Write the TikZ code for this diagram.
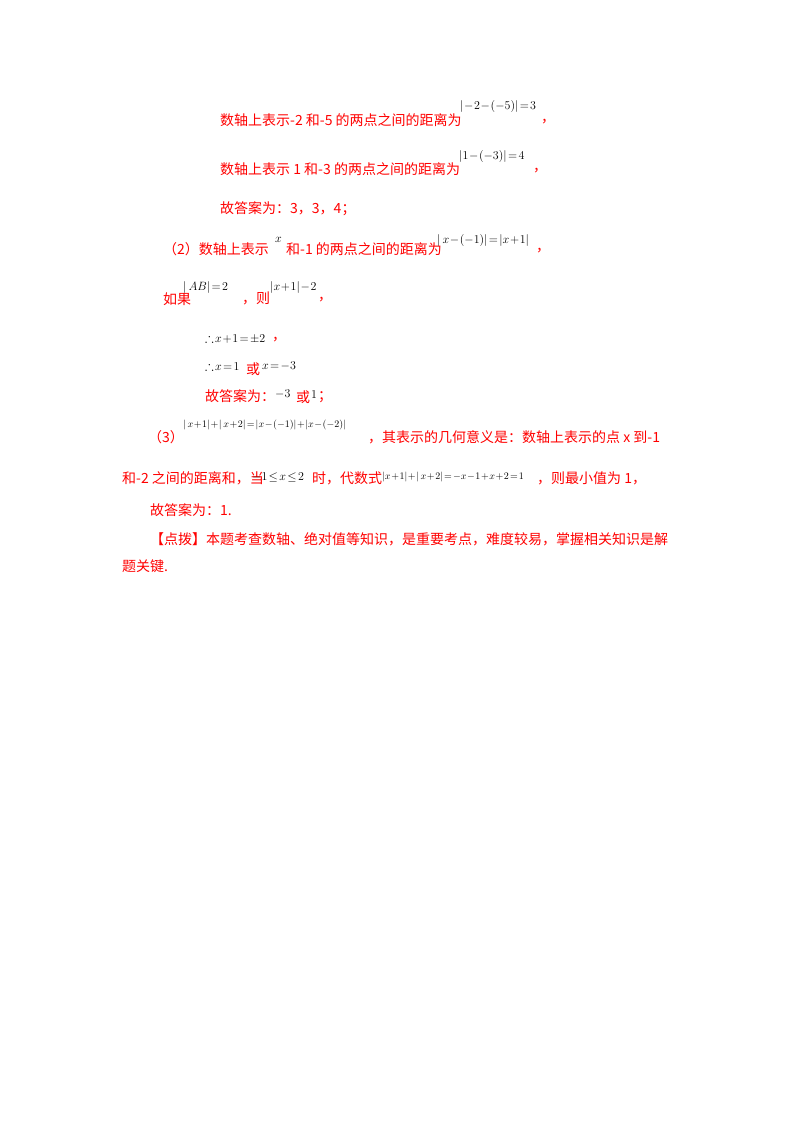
\documentclass[tikz,border=0pt]{standalone}
\usepackage{amssymb}
\usepackage{fontspec}
\setmainfont{Liberation Serif}
\newfontfamily\cjk{Noto Sans CJK SC}
\medmuskip=1mu plus 1mu
\thickmuskip=2mu plus 1mu
\begin{document}
\begin{tikzpicture}[x=1pt,y=-1pt,
  t/.style={anchor=west,inner sep=0pt,text=red,font=\cjk\fontsize{14}{14}\selectfont},
  f/.style={anchor=west,inner sep=0pt,text=black,font=\fontsize{13}{13}\selectfont},
  fs/.style={anchor=west,inner sep=0pt,text=black,font=\fontsize{10}{10}\selectfont}]
\useasboundingbox (0,0) rectangle (800,1132);
\node[t] (l1) at (220,120) {数轴上表示-2 和-5 的两点之间的距离为};
\node[f] (f1) at (460,106) {$|-2-(-5)|=3$};
\node[t] (c1) at (541,122) {，};
\node[t] (l2) at (220,169) {数轴上表示 1 和-3 的两点之间的距离为};
\node[f] (f2) at (459,156) {$|1-(-3)|=4$};
\node[t] (c2) at (533,171) {，};
\node[t] (l3) at (220,209) {故答案为：3，3，4；};
\node[t] (l4) at (163,249) {（2）数轴上表示};
\node[f] (x4) at (275,240) {$x$};
\node[t] (l4b) at (286,249) {和-1 的两点之间的距离为};
\node[f] (f4) at (437,240) {$|\,x-(-1)|=\left|x+1\right|$};
\node[t] (c4) at (536,251) {，};
\node[t] (l5) at (163,299) {如果};
\node[f] (f5) at (183,287) {$|\,AB|=2$};
\node[t] (l5b) at (242,298) {，则};
\node[f] (f5b) at (270,287) {$|x+1|-2$};
\node[t] (c5) at (318,300) {，};
\node[f] (l6) at (205,338) {$\therefore x+1=\pm2$};
\node[t] (c6) at (272,340) {，};
\node[f] (l7) at (205,366) {$\therefore x=1$};
\node[t] (l7b) at (246,369) {或};
\node[f] (l7c) at (262,366) {$x=-3$};
\node[t] (l8) at (205,396) {故答案为：};
\node[f] (l8b) at (275,394) {$-3$};
\node[t] (l8c) at (296,397) {或};
\node[f] (l8d) at (311,395) {$1$};
\node[t] (l8e) at (318,397) {；};
\node[t] (l9) at (148,437) {（3）};
\node[fs] (f9) at (183,425) {$|\,x+1|+|\,x+2|=\left|x-(-1)\right|+\left|x-(-2)\right|$};
\node[t] (l9b) at (368,437) {，其表示的几何意义是：数轴上表示的点 x 到-1};
\node[t] (l10) at (122,478) {和-2 之间的距离和，当};
\node[f] (f10) at (252,477) {$-1\le x\le 2$};
\node[t] (l10b) at (312,478) {时，代数式};
\node[fs] (f10b) at (382,477) {$|x+1|+|\,x+2|=-x-1+x+2=1$};
\node[t] (l10c) at (537,478) {，则最小值为 1，};
\node[t] (l11) at (150,510) {故答案为：1.};
\node[t] (l12) at (150,539) {【点拨】本题考查数轴、绝对值等知识，是重要考点，难度较易，掌握相关知识是解};
\node[t] (l13) at (122,566) {题关键.};
\end{tikzpicture}
\end{document}
